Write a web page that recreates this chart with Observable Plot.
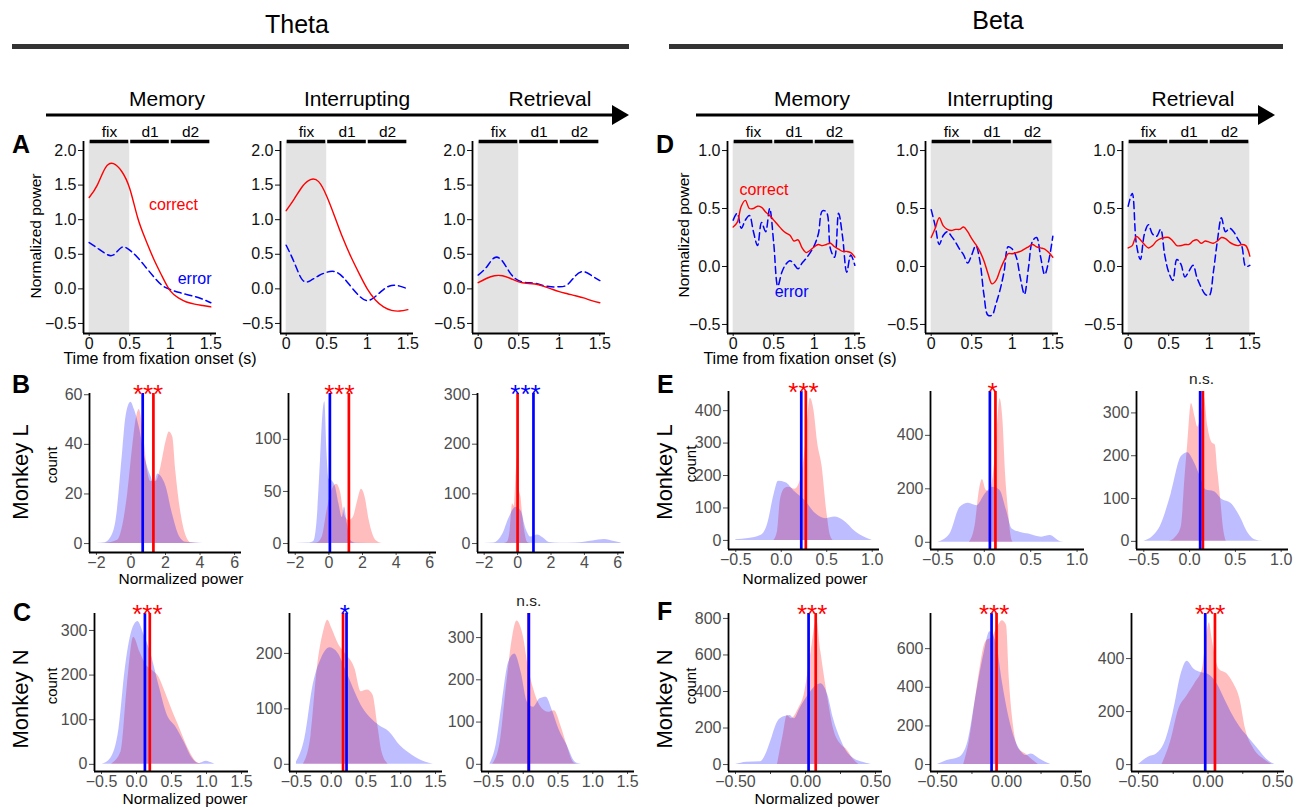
<!DOCTYPE html>
<html><head><meta charset="utf-8">
<script src="https://cdn.jsdelivr.net/npm/d3@7"></script>
<script src="https://cdn.jsdelivr.net/npm/@observablehq/plot@0.6"></script>
<style>
body{margin:0;background:#fff;}
#chart{position:relative;width:1303px;height:808px;overflow:hidden;font-family:"Liberation Sans",Arial,sans-serif;background:#fff;}
#chart svg{position:absolute;overflow:visible;}
</style></head><body><div id="chart"></div>
<script>
// ---------------- DATA ----------------
const bands = ["Theta", "Beta"];
const stages = ["Memory", "Interrupting", "Retrieval"];
const monkeys = ["Monkey L", "Monkey N"];
const panelLetters = ["A", "B", "C", "D", "E", "F"];
const periodNames = ["fix", "d1", "d2"];
const periodStart = [0, 0.5, 1.0];
const periodEnd = [0.5, 1.0, 1.5];
const seriesNames = ["correct", "error"];

// time courses (theta, 0.1 s grid)
const thetaTime = [0,0.1,0.2,0.3,0.4,0.5,0.6,0.7,0.8,0.9,1.0,1.1,1.2,1.3,1.4,1.5];
const thetaMemory_correct = [1.32,1.50,1.75,1.81,1.70,1.45,1.02,0.70,0.42,0.18,-0.03,-0.13,-0.19,-0.22,-0.24,-0.26];
const thetaMemory_error = [0.67,0.59,0.51,0.49,0.60,0.56,0.45,0.31,0.17,0.05,-0.01,-0.05,-0.08,-0.11,-0.15,-0.20];
const thetaInterrupting_correct = [1.13,1.30,1.48,1.58,1.55,1.34,1.04,0.73,0.46,0.22,0.0,-0.16,-0.26,-0.31,-0.32,-0.30];
const thetaInterrupting_error = [0.63,0.38,0.13,0.12,0.19,0.24,0.25,0.17,0.03,-0.10,-0.17,-0.11,-0.01,0.05,0.04,0.0];
const thetaRetrieval_correct = [0.09,0.15,0.19,0.19,0.15,0.10,0.08,0.07,0.04,0.0,-0.04,-0.07,-0.10,-0.13,-0.17,-0.20];
const thetaRetrieval_error = [0.20,0.31,0.45,0.40,0.22,0.12,0.09,0.08,0.05,0.03,0.03,0.06,0.19,0.25,0.19,0.12];

// time courses (beta, 0.05 s grid)
const betaTime = [0,0.05,0.1,0.15,0.2,0.25,0.3,0.35,0.4,0.45,0.5,0.55,0.6,0.65,0.7,0.75,0.8,0.85,0.9,0.95,1.0,1.05,1.1,1.15,1.2,1.25,1.3,1.35,1.4,1.45,1.5];
const betaMemory_correct = [0.34,0.38,0.52,0.57,0.50,0.50,0.52,0.51,0.47,0.44,0.40,0.36,0.32,0.29,0.27,0.22,0.23,0.16,0.12,0.14,0.17,0.19,0.18,0.19,0.20,0.17,0.15,0.13,0.13,0.12,0.08];
const betaMemory_error = [0.40,0.46,0.33,0.40,0.44,0.30,0.18,0.38,0.30,0.50,0.20,-0.17,-0.05,0.02,0.05,0.02,-0.02,0.03,0.07,0.12,0.18,0.28,0.48,0.47,0.15,0.08,0.46,0.25,-0.05,0.10,0.01];
const betaInterrupting_correct = [0.25,0.33,0.42,0.35,0.32,0.31,0.32,0.32,0.34,0.30,0.24,0.19,0.13,0.05,-0.06,-0.15,-0.12,-0.03,0.05,0.11,0.11,0.12,0.13,0.15,0.17,0.19,0.17,0.16,0.15,0.12,0.08];
const betaInterrupting_error = [0.49,0.35,0.19,0.27,0.30,0.26,0.21,0.15,0.10,0.03,0.10,0.18,0.05,-0.24,-0.42,-0.42,-0.32,-0.20,-0.04,0.17,0.15,0.08,-0.10,-0.24,-0.01,0.22,0.25,0.08,-0.07,0.05,0.26];
const betaRetrieval_correct = [0.16,0.18,0.26,0.23,0.19,0.16,0.18,0.22,0.24,0.25,0.25,0.22,0.18,0.18,0.19,0.19,0.22,0.23,0.20,0.22,0.21,0.20,0.22,0.25,0.24,0.21,0.19,0.18,0.19,0.18,0.09];
const betaRetrieval_error = [0.52,0.63,0.20,0.06,0.28,0.36,0.28,0.26,0.32,0.10,-0.05,-0.12,0.06,0.02,-0.09,-0.04,0.01,-0.10,-0.18,-0.24,-0.25,-0.05,0.22,0.42,0.30,0.33,0.30,0.24,0.18,0.00,0.01];

// distributions [normalized power, count]
const thetaL_memory_correct = [[-1.5,0],[-0.77,1.3],[-0.48,7],[-0.19,20],[0.1,39],[0.3,50],[0.48,54],[0.77,41],[0.97,29],[1.16,25],[1.45,25],[1.74,31],[2.03,41],[2.22,45],[2.42,43],[2.6,29],[2.9,12],[3.2,3],[3.5,0.3],[4,0]];
const thetaL_memory_error = [[-2,0],[-1.5,0.3],[-1.2,2],[-0.87,9],[-0.48,37],[-0.29,51],[0,57],[0.2,54],[0.48,47],[0.87,33],[1.16,27],[1.35,24],[1.55,28],[1.75,27],[2.03,23],[2.4,12],[2.8,3],[3.2,0.5],[4.2,0]];
const thetaL_interrupting_correct = [[-1,0],[-0.7,0.5],[-0.4,6],[-0.1,32],[0.16,50],[0.46,57],[0.7,49],[0.85,33],[1.0,25],[1.2,22],[1.45,25],[1.7,40],[1.94,52],[2.15,45],[2.4,22],[2.8,3],[3.2,0]];
const thetaL_interrupting_error = [[-2,0],[-1.2,0.5],[-0.9,2],[-0.7,22],[-0.5,79],[-0.35,125],[-0.24,136],[-0.12,90],[0,62],[0.2,60],[0.4,54],[0.6,38],[0.8,25],[0.93,35],[1.1,19],[1.3,3],[1.6,0.3],[3,0]];
const thetaL_retrieval_correct = [[-0.8,0],[-0.6,3],[-0.45,25],[-0.3,80],[-0.2,75],[-0.1,130],[0,175],[0.1,110],[0.2,93],[0.3,60],[0.45,20],[0.6,2],[0.8,0]];
const thetaL_retrieval_error = [[-2,0],[-1.4,1],[-0.9,18],[-0.5,52],[-0.1,73],[0.2,66],[0.5,30],[0.8,13],[1.2,17],[1.5,12],[1.9,2],[2.5,0.5],[3.5,1],[4.5,5],[5.2,8],[5.8,4],[6.2,1]];
const thetaL_meanCorrect = [1.30, 1.19, 0.0];
const thetaL_meanError = [0.68, 0.06, 0.95];
const thetaL_sig = ["***", "***", "***"];
const thetaL_sigSide = ["correct", "correct", "error"];

const thetaN_memory_correct = [[-0.36,0],[-0.22,28],[-0.13,177],[-0.04,285],[0.05,251],[0.14,222],[0.23,210],[0.32,196],[0.41,162],[0.5,125],[0.62,80],[0.74,35],[0.86,5],[0.95,0]];
const thetaN_memory_error = [[-0.49,0],[-0.37,13],[-0.25,80],[-0.16,214],[-0.07,296],[0.02,320],[0.11,289],[0.2,251],[0.32,177],[0.44,110],[0.56,84],[0.68,50],[0.8,13],[0.89,2],[0.95,5],[1.0,7],[1.06,4],[1.12,0]];
const thetaN_interrupting_correct = [[-0.4,0],[-0.29,52],[-0.2,173],[-0.11,239],[-0.05,260],[0.01,245],[0.1,218],[0.22,197],[0.34,173],[0.43,131],[0.52,134],[0.6,125],[0.67,70],[0.73,22],[0.82,0]];
const thetaN_interrupting_error = [[-0.5,4],[-0.38,46],[-0.26,143],[-0.14,191],[-0.02,210],[0.1,200],[0.22,167],[0.34,131],[0.46,100],[0.57,83],[0.69,70],[0.84,58],[0.99,34],[1.17,16],[1.35,4],[1.47,0]];
const thetaN_retrieval_correct = [[-0.44,0],[-0.33,53],[-0.24,186],[-0.15,304],[-0.09,339],[0,304],[0.08,225],[0.15,178],[0.24,139],[0.36,123],[0.45,127],[0.54,92],[0.63,45],[0.72,5],[0.78,0]];
const thetaN_retrieval_error = [[-0.48,0],[-0.39,45],[-0.3,147],[-0.21,241],[-0.12,261],[-0.03,218],[0.06,147],[0.15,135],[0.24,155],[0.33,159],[0.42,127],[0.51,84],[0.63,45],[0.75,5],[0.84,0]];
const thetaN_meanCorrect = [0.19, 0.17, 0.08];
const thetaN_meanError = [0.12, 0.22, 0.08];
const thetaN_sig = ["***", "*", "n.s."];
const thetaN_sigSide = ["correct", "error", "none"];

const betaL_memory_correct = [[-0.08,0],[-0.04,30],[-0.01,123],[0.04,160],[0.08,164],[0.15,158],[0.22,195],[0.27,300],[0.32,438],[0.36,400],[0.4,300],[0.45,226],[0.5,90],[0.54,15],[0.57,0]];
const betaL_memory_error = [[-0.5,2],[-0.36,6],[-0.22,16],[-0.15,50],[-0.08,140],[-0.03,182],[0.05,178],[0.15,150],[0.26,123],[0.38,82],[0.49,67],[0.59,72],[0.68,62],[0.82,26],[0.98,2],[1.0,0]];
const betaL_interrupting_correct = [[-0.16,0],[-0.1,60],[-0.05,200],[-0.02,235],[0.02,195],[0.06,190],[0.1,260],[0.14,420],[0.17,537],[0.2,460],[0.23,250],[0.26,120],[0.29,20],[0.31,0]];
const betaL_interrupting_error = [[-0.5,0],[-0.37,31],[-0.26,131],[-0.17,146],[-0.08,137],[0.01,181],[0.1,206],[0.17,194],[0.24,119],[0.3,50],[0.39,37],[0.48,31],[0.62,19],[0.71,25],[0.82,2],[0.86,0]];
const betaL_retrieval_correct = [[-0.22,0],[-0.15,10],[-0.09,35],[-0.05,150],[-0.02,229],[0.02,322],[0.06,290],[0.09,267],[0.13,300],[0.16,337],[0.2,267],[0.25,229],[0.28,225],[0.31,160],[0.34,97],[0.37,30],[0.4,0]];
const betaL_retrieval_error = [[-0.5,0],[-0.4,12],[-0.32,35],[-0.2,112],[-0.09,198],[-0.02,207],[0.05,185],[0.12,150],[0.18,120],[0.27,116],[0.36,97],[0.45,89],[0.55,58],[0.64,19],[0.72,3],[0.8,0]];
const betaL_meanCorrect = [0.27, 0.12, 0.145];
const betaL_meanError = [0.22, 0.06, 0.115];
const betaL_sig = ["***", "*", "n.s."];
const betaL_sigSide = ["correct", "correct", "none"];

const betaN_memory_correct = [[-0.2,0],[-0.16,159],[-0.13,269],[-0.1,251],[-0.05,306],[-0.01,379],[0.04,617],[0.08,791],[0.11,617],[0.16,361],[0.2,196],[0.26,104],[0.29,86],[0.34,31],[0.38,0]];
const betaN_memory_error = [[-0.5,0],[-0.42,13],[-0.32,16],[-0.28,60],[-0.25,123],[-0.2,232],[-0.16,260],[-0.11,269],[-0.08,251],[-0.04,306],[0.02,379],[0.08,434],[0.11,443],[0.16,379],[0.2,251],[0.25,141],[0.29,77],[0.35,31],[0.41,13],[0.47,0]];
const betaN_interrupting_correct = [[-0.31,0],[-0.27,116],[-0.21,410],[-0.15,635],[-0.1,661],[-0.07,704],[-0.03,745],[0,721],[0.02,445],[0.05,202],[0.09,81],[0.14,55],[0.18,29],[0.23,0]];
const betaN_interrupting_error = [[-0.5,0],[-0.43,21],[-0.34,38],[-0.28,116],[-0.22,358],[-0.16,583],[-0.12,687],[-0.07,618],[-0.03,427],[0.02,237],[0.06,133],[0.11,64],[0.14,47],[0.18,55],[0.24,29],[0.32,0]];
const betaN_retrieval_correct = [[-0.33,0],[-0.27,84],[-0.21,209],[-0.15,260],[-0.09,310],[-0.04,360],[-0.01,485],[0.01,535],[0.03,472],[0.08,360],[0.14,341],[0.18,310],[0.23,247],[0.27,134],[0.33,59],[0.4,21],[0.46,0]];
const betaN_retrieval_error = [[-0.5,0],[-0.43,28],[-0.37,40],[-0.31,84],[-0.25,197],[-0.19,347],[-0.15,390],[-0.1,360],[-0.05,347],[0,341],[0.06,310],[0.12,247],[0.18,184],[0.24,134],[0.3,97],[0.36,59],[0.42,21],[0.48,0]];
const betaN_meanCorrect = [0.073, -0.072, 0.05];
const betaN_meanError = [0.022, -0.108, -0.02];
const betaN_sig = ["***", "***", "***"];
const betaN_sigSide = ["correct", "correct", "correct"];

// ---------------- DRAWING ----------------
const FONT = '"Liberation Sans", Arial, Helvetica, sans-serif';
const RED = "#ff0000", BLUE = "#0000ff";
const chart = document.getElementById("chart");

function makePlot(box, xOpt, yOpt, marks, tickColor) {
  const mL = 50, mR = 16, mT = 42, mB = 30;
  const w = box[1] - box[0], h = box[3] - box[2];
  const svg = Plot.plot({
    width: w + mL + mR, height: h + mT + mB,
    marginLeft: mL, marginRight: mR, marginTop: mT, marginBottom: mB,
    style: {fontFamily: FONT, fontSize: "16px", color: tickColor, background: "transparent", overflow: "visible"},
    x: {label: null, tickSize: 3, tickPadding: 1, ...xOpt},
    y: {label: null, tickSize: 5, tickPadding: 2, ...yOpt},
    marks: [
      ...marks,
      Plot.ruleX([xOpt.domain[0]], {stroke: "#000", strokeWidth: 1.8}),
      Plot.ruleY([yOpt.domain[0]], {stroke: "#000", strokeWidth: 1.8})
    ]
  });
  svg.style.position = "absolute";
  svg.style.left = (box[0] - mL) + "px";
  svg.style.top = (box[2] - mT) + "px";
  chart.appendChild(svg);
}

const fmt1 = d3.format(".1f");
const timeX = {domain: [-0.07, 1.57], ticks: [0, 0.5, 1, 1.5], tickFormat: d => String(d)};

function timePanel(box, grid, correct, error, yOpt, shadeEnd, curve, annot) {
  const yTop = yOpt.domain[1], yBot = yOpt.domain[0];
  const marks = [
    Plot.rect(["shade"], {x1: () => periodStart[0], x2: () => shadeEnd, y1: () => yBot, y2: () => yTop, fill: "#e3e3e3"}),
    Plot.ruleY(periodNames, {y: () => yTop, x1: (d, i) => periodStart[i] + 0.012, x2: (d, i) => periodEnd[i] - 0.012, stroke: "#000", strokeWidth: 3.5}),
    Plot.text(periodNames, {x: (d, i) => (periodStart[i] + periodEnd[i]) / 2, y: () => yTop, text: d => d, dy: -9, fontSize: 15.5, fill: "#000"}),
    Plot.line(grid, {x: d => d, y: (d, i) => error[i], stroke: BLUE, strokeWidth: 1.5, strokeDasharray: "7,4", curve}),
    Plot.line(grid, {x: d => d, y: (d, i) => correct[i], stroke: RED, strokeWidth: 1.4, curve})
  ];
  if (annot) {
    marks.push(Plot.text(seriesNames, {x: (d, i) => annot[i][0], y: (d, i) => annot[i][1], text: d => d, fill: d => d === "correct" ? RED : BLUE, fontSize: 16}));
  }
  makePlot(box, timeX, yOpt, marks, "#111");
}

const thetaY = {domain: [-0.645, 2.13], ticks: [-0.5, 0, 0.5, 1, 1.5, 2], tickFormat: fmt1};
const betaY = {domain: [-0.578, 1.078], ticks: [-0.5, 0, 0.5, 1], tickFormat: fmt1};

timePanel([83, 216, 141, 333], thetaTime, thetaMemory_correct, thetaMemory_error, thetaY, periodEnd[0], "natural", [[1.04, 1.22], [1.30, 0.15]]);
timePanel([280, 413, 141, 333], thetaTime, thetaInterrupting_correct, thetaInterrupting_error, thetaY, periodEnd[0], "natural");
timePanel([472, 605, 141, 333], thetaTime, thetaRetrieval_correct, thetaRetrieval_error, thetaY, periodEnd[0], "natural");
timePanel([727, 860, 141, 333], betaTime, betaMemory_correct, betaMemory_error, betaY, periodEnd[2], "catmull-rom", [[0.38, 0.66], [0.72, -0.22]]);
timePanel([925, 1058, 141, 333], betaTime, betaInterrupting_correct, betaInterrupting_error, betaY, periodEnd[2], "catmull-rom");
timePanel([1122, 1255, 141, 333], betaTime, betaRetrieval_correct, betaRetrieval_error, betaY, periodEnd[2], "catmull-rom");

function densityPanel(box, xOpt, yOpt, correct, error, meanC, meanE, sig, side) {
  const sigColor = side === "correct" ? RED : side === "error" ? BLUE : "#1a1a1a";
  const ns = side === "none";
  makePlot(box, xOpt, yOpt, [
    Plot.areaY(correct, {x: d => d[0], y: d => d[1], fill: RED, fillOpacity: 0.26, curve: "monotone-x"}),
    Plot.areaY(error, {x: d => d[0], y: d => d[1], fill: BLUE, fillOpacity: 0.26, curve: "monotone-x"}),
    Plot.ruleX([meanC], {stroke: RED, strokeWidth: 2.7}),
    Plot.ruleX([meanE], {stroke: BLUE, strokeWidth: 2.7}),
    Plot.text([sig], {x: () => (meanC + meanE) / 2, y: () => yOpt.domain[1], text: d => d, fill: sigColor, fontSize: ns ? 15.5 : 26, dy: ns ? -12 : 1})
  ], "#4d4d4d");
}

const xTheta = {domain: [-2.4, 6.4], ticks: [-2, 0, 2, 4, 6], tickFormat: d3.format("d")};
const xThetaN = {domain: [-0.6, 1.6], ticks: [-0.5, 0, 0.5, 1, 1.5], tickFormat: fmt1};
const xBetaL = {domain: [-0.58, 1.08], ticks: [-0.5, 0, 0.5, 1], tickFormat: fmt1};
const xBetaN = {domain: [-0.55, 0.55], ticks: [-0.5, -0.25, 0, 0.25, 0.5], tickFormat: d => (Math.abs(d) === 0.25 ? "" : d3.format(".2f")(d))};

// B: theta monkey L
densityPanel([89, 241, 393, 552], xTheta, {domain: [-3.6, 60.5], ticks: [0, 20, 40, 60]}, thetaL_memory_correct, thetaL_memory_error, thetaL_meanCorrect[0], thetaL_meanError[0], thetaL_sig[0], thetaL_sigSide[0]);
densityPanel([288, 436, 393, 552], xTheta, {domain: [-8.6, 144], ticks: [0, 50, 100]}, thetaL_interrupting_correct, thetaL_interrupting_error, thetaL_meanCorrect[1], thetaL_meanError[1], thetaL_sig[1], thetaL_sigSide[1]);
densityPanel([477, 624, 393, 552], xTheta, {domain: [-18, 302], ticks: [0, 100, 200, 300]}, thetaL_retrieval_correct, thetaL_retrieval_error, thetaL_meanCorrect[2], thetaL_meanError[2], thetaL_sig[2], thetaL_sigSide[2]);
// C: theta monkey N
densityPanel([94, 248, 613, 771], xThetaN, {domain: [-16, 338], ticks: [0, 100, 200, 300]}, thetaN_memory_correct, thetaN_memory_error, thetaN_meanCorrect[0], thetaN_meanError[0], thetaN_sig[0], thetaN_sigSide[0]);
densityPanel([289, 442, 613, 771], xThetaN, {domain: [-13, 272], ticks: [0, 100, 200]}, thetaN_interrupting_correct, thetaN_interrupting_error, thetaN_meanCorrect[1], thetaN_meanError[1], thetaN_sig[1], thetaN_sigSide[1]);
densityPanel([481, 634, 613, 771], xThetaN, {domain: [-17, 357], ticks: [0, 100, 200, 300]}, thetaN_retrieval_correct, thetaN_retrieval_error, thetaN_meanCorrect[2], thetaN_meanError[2], thetaN_sig[2], thetaN_sigSide[2]);
// E: beta monkey L
densityPanel([728, 879, 391, 549], xBetaL, {domain: [-28, 459], ticks: [0, 100, 200, 300, 400]}, betaL_memory_correct, betaL_memory_error, betaL_meanCorrect[0], betaL_meanError[0], betaL_sig[0], betaL_sigSide[0]);
densityPanel([930, 1084, 391, 549], xBetaL, {domain: [-27, 564], ticks: [0, 200, 400]}, betaL_interrupting_correct, betaL_interrupting_error, betaL_meanCorrect[1], betaL_meanError[1], betaL_sig[1], betaL_sigSide[1]);
densityPanel([1136, 1288, 391, 549], xBetaL, {domain: [-19, 350], ticks: [0, 100, 200, 300]}, betaL_retrieval_correct, betaL_retrieval_error, betaL_meanCorrect[2], betaL_meanError[2], betaL_sig[2], betaL_sigSide[2]);
// F: beta monkey N
densityPanel([728, 882, 613, 771], xBetaN, {domain: [-38, 827], ticks: [0, 200, 400, 600, 800]}, betaN_memory_correct, betaN_memory_error, betaN_meanCorrect[0], betaN_meanError[0], betaN_sig[0], betaN_sigSide[0]);
densityPanel([930, 1082, 613, 771], xBetaN, {domain: [-36, 782], ticks: [0, 200, 400, 600]}, betaN_interrupting_correct, betaN_interrupting_error, betaN_meanCorrect[1], betaN_meanError[1], betaN_sig[1], betaN_sigSide[1]);
densityPanel([1131, 1284, 613, 771], xBetaN, {domain: [-26, 570], ticks: [0, 200, 400]}, betaN_retrieval_correct, betaN_retrieval_error, betaN_meanCorrect[2], betaN_meanError[2], betaN_sig[2], betaN_sigSide[2]);

// ---------------- ANNOTATION LAYER ----------------
const ov = d3.select(chart).append("svg")
  .attr("width", 1303).attr("height", 808)
  .style("left", "0px").style("top", "0px").style("pointer-events", "none")
  .attr("font-family", FONT);

function txt(x, y, s, size, o = {}) {
  return ov.append("text").attr("x", 0).attr("y", 0).text(s)
    .attr("font-size", size).attr("fill", o.fill || "#000")
    .attr("text-anchor", o.anchor || "middle")
    .attr("font-weight", o.bold ? "bold" : "normal")
    .attr("transform", `translate(${x},${y})` + (o.rotate ? " rotate(-90)" : ""));
}

// band titles and bars
txt(297, 33, bands[0], 25);
txt(998, 29, bands[1], 25);
ov.append("rect").attr("x", 12).attr("y", 44).attr("width", 617).attr("height", 5).attr("fill", "#333");
ov.append("rect").attr("x", 669).attr("y", 44).attr("width", 614).attr("height", 5).attr("fill", "#333");

// stage labels and arrows
[[167, 357, 550], [812, 1000, 1193]].forEach(xs => xs.forEach((x, i) => txt(x, 106, stages[i], 21)));
[[46, 612, 629], [696, 1258, 1275]].forEach(([x0, xb, xt]) => {
  ov.append("line").attr("x1", x0).attr("x2", xb + 2).attr("y1", 115).attr("y2", 115).attr("stroke", "#000").attr("stroke-width", 3);
  ov.append("path").attr("d", `M${xb},105 L${xt},115 L${xb},125 Z`).attr("fill", "#000");
});

// panel letters
[[12, 153], [12, 393], [13, 621], [656, 153], [657, 393], [657, 620]].forEach(([x, y], i) =>
  txt(x, y, panelLetters[i], 25, {anchor: "start", bold: true}));

// axis titles for time panels
txt(41, 236, "Normalized power", 15.5, {rotate: true});
txt(689, 235, "Normalized power", 15.5, {rotate: true});
txt(160, 364, "Time from fixation onset (s)", 16);
txt(800, 364, "Time from fixation onset (s)", 16);

// density axis titles
txt(181, 584, "Normalized power", 15.5);
txt(185, 804, "Normalized power", 15.5);
txt(805, 584, "Normalized power", 15.5);
txt(817, 804, "Normalized power", 15.5);
[[57, 465], [57, 686], [696, 464], [696, 686]].forEach(([x, y]) => txt(x, y, "count", 15, {rotate: true}));
[[28, 472, 0], [28, 699, 1], [672, 472, 0], [672, 699, 1]].forEach(([x, y, m]) => txt(x, y, monkeys[m], 22, {rotate: true}));
</script></body></html>
